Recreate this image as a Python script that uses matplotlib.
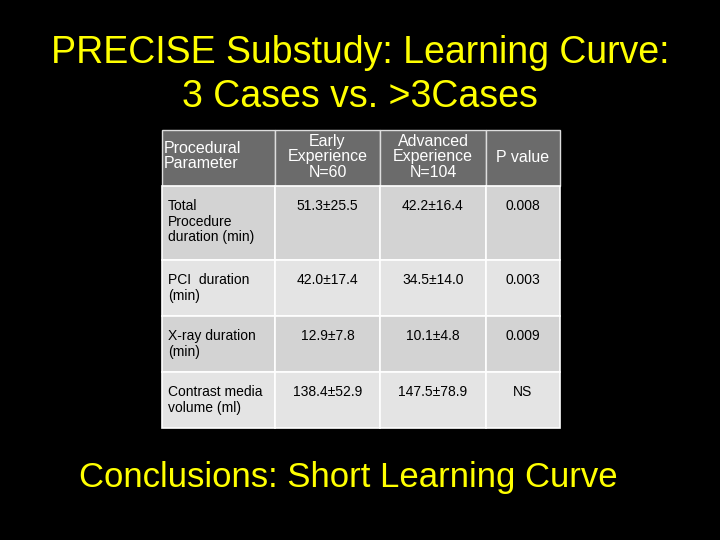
import matplotlib
matplotlib.use("Agg")
import matplotlib.pyplot as plt
from matplotlib.patches import Rectangle

title_lines = ["PRECISE Substudy: Learning Curve:", "3 Cases vs. >3Cases"]
conclusion = "Conclusions: Short Learning Curve"
headers = ["Procedural\nParameter", "Early\nExperience\nN=60", "Advanced\nExperience\nN=104", "P value"]
parameters = ["Total\nProcedure\nduration (min)", "PCI  duration\n(min)", "X-ray duration\n(min)", "Contrast media\nvolume (ml)"]
early = ["51.3±25.5", "42.0±17.4", "12.9±7.8", "138.4±52.9"]
advanced = ["42.2±16.4", "34.5±14.0", "10.1±4.8", "147.5±78.9"]
p_values = ["0.008", "0.003", "0.009", "NS"]

col_edges = [162, 275, 380, 486, 560]
row_edges = [130, 186, 260, 316, 372, 428]
row_colors = ["#d3d3d3", "#e4e4e4", "#d3d3d3", "#e4e4e4"]
FONT = "Liberation Sans"

fig = plt.figure(figsize=(7.2, 5.4), dpi=100, facecolor="black")
ax = fig.add_axes([0, 0, 1, 1])
ax.set_xlim(0, 720)
ax.set_ylim(540, 0)
ax.axis("off")

ax.text(360, 53, title_lines[0], color="#ffff00", fontsize=27, fontweight="medium",
        ha="center", va="center", family=FONT)
ax.text(360, 97, title_lines[1], color="#ffff00", fontsize=27, fontweight="medium",
        ha="center", va="center", family=FONT)

# header row
for c in range(4):
    x0, x1 = col_edges[c], col_edges[c + 1]
    ax.add_patch(Rectangle((x0, row_edges[0]), x1 - x0, row_edges[1] - row_edges[0],
                           facecolor="#6b6b6b", edgecolor="#dddddd", lw=1))
    if c == 0:
        ax.text(x0 + 2, (row_edges[0] + row_edges[1]) / 2 - 2, headers[c], color="white",
                fontsize=11.5, ha="left", va="center", linespacing=1.05, family=FONT)
    else:
        ax.text((x0 + x1) / 2, (row_edges[0] + row_edges[1]) / 2 - 1, headers[c], color="white",
                fontsize=11.5, ha="center", va="center", linespacing=1.05, family=FONT)

rows = list(zip(parameters, early, advanced, p_values))
for r, vals in enumerate(rows):
    y0, y1 = row_edges[r + 1], row_edges[r + 2]
    for c in range(4):
        x0, x1 = col_edges[c], col_edges[c + 1]
        ax.add_patch(Rectangle((x0, y0), x1 - x0, y1 - y0,
                               facecolor=row_colors[r], edgecolor="white", lw=1.2))
        if c == 0:
            ax.text(x0 + 6, y0 + 13, vals[c], color="black", fontsize=10, ha="left", va="top",
                    linespacing=1.15, family=FONT)
        else:
            ax.text((x0 + x1) / 2, y0 + 13, vals[c], color="black", fontsize=10, ha="center",
                    va="top", family=FONT)

ax.text(348, 478, conclusion, color="#ffff00", fontsize=25, ha="center", va="center", family=FONT)

fig.savefig("out.png", dpi=100, facecolor="black")
